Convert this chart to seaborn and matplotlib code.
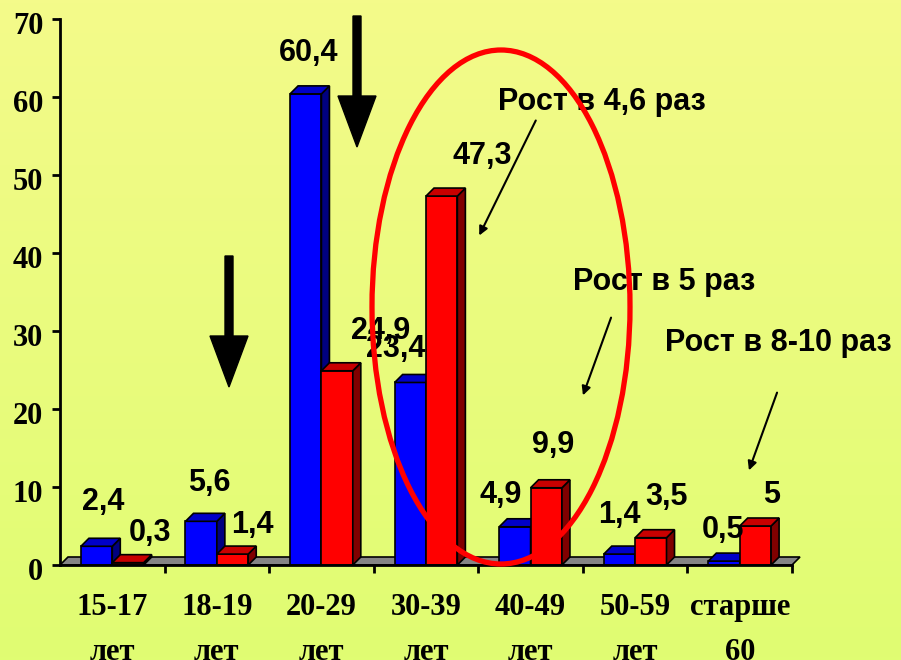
import numpy as np
import pandas as pd
import matplotlib
matplotlib.use("Agg")
import matplotlib.pyplot as plt
import matplotlib.transforms as mtransforms
from matplotlib.patches import Polygon, Ellipse
import seaborn as sns

# ---------------- data ----------------
categories = ["15-17\nлет", "18-19\nлет", "20-29\nлет", "30-39\nлет",
              "40-49\nлет", "50-59\nлет", "старше\n60"]
series_a = [2.4, 5.6, 60.4, 23.4, 4.9, 1.4, 0.5]    # blue
series_b = [0.3, 1.4, 24.9, 47.3, 9.9, 3.5, 5.0]    # red
labels_a = ["2,4", "5,6", "60,4", "23,4", "4,9", "1,4", "0,5"]
labels_b = ["0,3", "1,4", "24,9", "47,3", "9,9", "3,5", "5"]
yticks = [0, 10, 20, 30, 40, 50, 60, 70]
notes = ["Рост в 4,6 раз", "Рост в 5 раз", "Рост в 8-10 раз"]

# ---------------- layout (pixels) ----------------
W, H = 901, 660
# label offsets from bar top (px right, px up to text centre)
off_a = [(7, 47), (8.5, 41), (3, 44), (-14.5, 36), (-14, 35), (0, 42), (-1, 34)]
off_b = [(22, 33), (19.5, 32), (44, 43), (41, 43), (7, 46), (15.5, 44), (16, 34)]
note_pos = [(602, 102), (664, 282), (778, 343)]
thin_arrows = [((537, 118), (478, 238)), ((612, 315), (582, 398)), ((778, 390), (748, 473))]
big_arrows = [(357, 16, 96, 147), (229, 256, 336, 387)]
depth_px = 8

df = pd.DataFrame({
    "cat": categories * 2,
    "val": series_a + series_b,
    "ser": ["a"] * len(categories) + ["b"] * len(categories),
})

fig = plt.figure(figsize=(W / 100, H / 100), dpi=100)

# background gradient
bg = fig.add_axes([0, 0, 1, 1], zorder=-10)
top = np.array([244, 250, 138]) / 255
bot = np.array([224, 253, 114]) / 255
t = np.linspace(0, 1, 200)[:, None, None]
grad = top * (1 - t) + bot * t
grad = np.repeat(grad, 2, axis=1)
bg.imshow(grad, aspect="auto", extent=[0, 1, 0, 1])
bg.axis("off")

ax = fig.add_axes([60 / W, 95 / H, 732 / W, 546 / H])
ax.patch.set_alpha(0)

sns.barplot(data=df, x="cat", y="val", hue="ser", palette=["#0000ff", "#ff0000"],
            width=0.6, saturation=1, edgecolor="black", linewidth=1.2,
            legend=False, ax=ax, zorder=3)
ax.set_xlim(-0.5, 6.5)
ax.set_ylim(0, 70)

sx = 7 / 732      # data units per px (x)
sy = 70 / 546     # data units per px (y)
ddx, ddy = depth_px * sx, depth_px * sy

# floor
floor = Polygon([(-0.5, 0), (6.5, 0), (6.5 + ddx, ddy), (-0.5 + ddx, ddy)],
                closed=True, facecolor="#858585", edgecolor="black", lw=1.2,
                zorder=1, clip_on=False)
ax.add_patch(floor)

n = len(categories)
bars = [p for p in list(ax.patches) if p is not floor]
for k, p in enumerate(bars):
    x0, w, h = p.get_x(), p.get_width(), p.get_height()
    grp = k // n
    z = 3 + grp
    p.set_zorder(z)
    topc, sidec = ("#0000c8", "#000080") if grp == 0 else ("#c80000", "#800000")
    topf = Polygon([(x0, h), (x0 + w, h), (x0 + w + ddx, h + ddy), (x0 + ddx, h + ddy)],
                   closed=True, facecolor=topc, edgecolor="black", lw=1.2, zorder=z, clip_on=False)
    side = Polygon([(x0 + w, 0), (x0 + w + ddx, ddy), (x0 + w + ddx, h + ddy), (x0 + w, h)],
                   closed=True, facecolor=sidec, edgecolor="black", lw=1.2, zorder=z, clip_on=False)
    ax.add_patch(side)
    ax.add_patch(topf)
    vals = series_a if grp == 0 else series_b
    labs = labels_a if grp == 0 else labels_b
    offs = off_a if grp == 0 else off_b
    i = k % n
    dx, dy = offs[i]
    ax.annotate(labs[i], xy=(x0 + w / 2, vals[i]), xytext=(dx * 0.72, (dy - 11) * 0.72),
                textcoords="offset points", ha="center", va="baseline",
                fontsize=22, fontweight="bold", family="Liberation Sans",
                zorder=8, annotation_clip=False)

# axes styling
for s in ["top", "right"]:
    ax.spines[s].set_visible(False)
for s in ["left", "bottom"]:
    ax.spines[s].set_linewidth(2)
    ax.spines[s].set_color("black")
    ax.spines[s].set_zorder(6)
ax.set_yticks(yticks)
ax.set_yticklabels([str(v) for v in yticks], fontsize=22, fontweight="bold",
                   family="Liberation Serif")
ax.tick_params(axis="y", length=6, width=2, pad=6, direction="out")
ax.set_xticks(range(n))
ax.set_xticklabels(categories, fontsize=22, fontweight="bold", family="Liberation Serif",
                   linespacing=1.75)
ax.tick_params(axis="x", length=0, pad=20)
ax.set_xticks(np.arange(0.5, 6.6, 1), minor=True)
ax.tick_params(axis="x", which="minor", length=6, width=2, direction="out")
ax.set_xlabel("")
ax.set_ylabel("")
off = mtransforms.ScaledTranslation(0, -4 / 100, fig.dpi_scale_trans)
for lab in ax.get_yticklabels():
    lab.set_transform(lab.get_transform() + off)
ax.grid(False)

def fpt(x, y):
    return (x / W, 1 - y / H)

# annotations
for txt, (x, y) in zip(notes, note_pos):
    fig.text(*fpt(x, y), txt, ha="center", va="center", fontsize=22, fontweight="bold",
             family="Liberation Sans", zorder=20)
for (s, e) in thin_arrows:
    fig.add_artist(matplotlib.patches.FancyArrowPatch(
        fpt(*s), fpt(*e), transform=fig.transFigure, arrowstyle="-|>",
        mutation_scale=13, lw=1.5, color="black", zorder=20))
for (cx, y0, yh, yt) in big_arrows:
    pts = [(cx - 4, y0), (cx + 4, y0), (cx + 4, yh), (cx + 19, yh), (cx, yt),
           (cx - 19, yh), (cx - 4, yh)]
    fig.add_artist(Polygon([fpt(*p) for p in pts], closed=True, transform=fig.transFigure,
                           facecolor="black", edgecolor="black", zorder=20))

fig.add_artist(Ellipse(fpt(501, 307), 258 / W, 514 / H, transform=fig.transFigure,
                       facecolor="none", edgecolor="#ff0000", lw=3.8, zorder=25))

fig.savefig("out.png", dpi=100)
